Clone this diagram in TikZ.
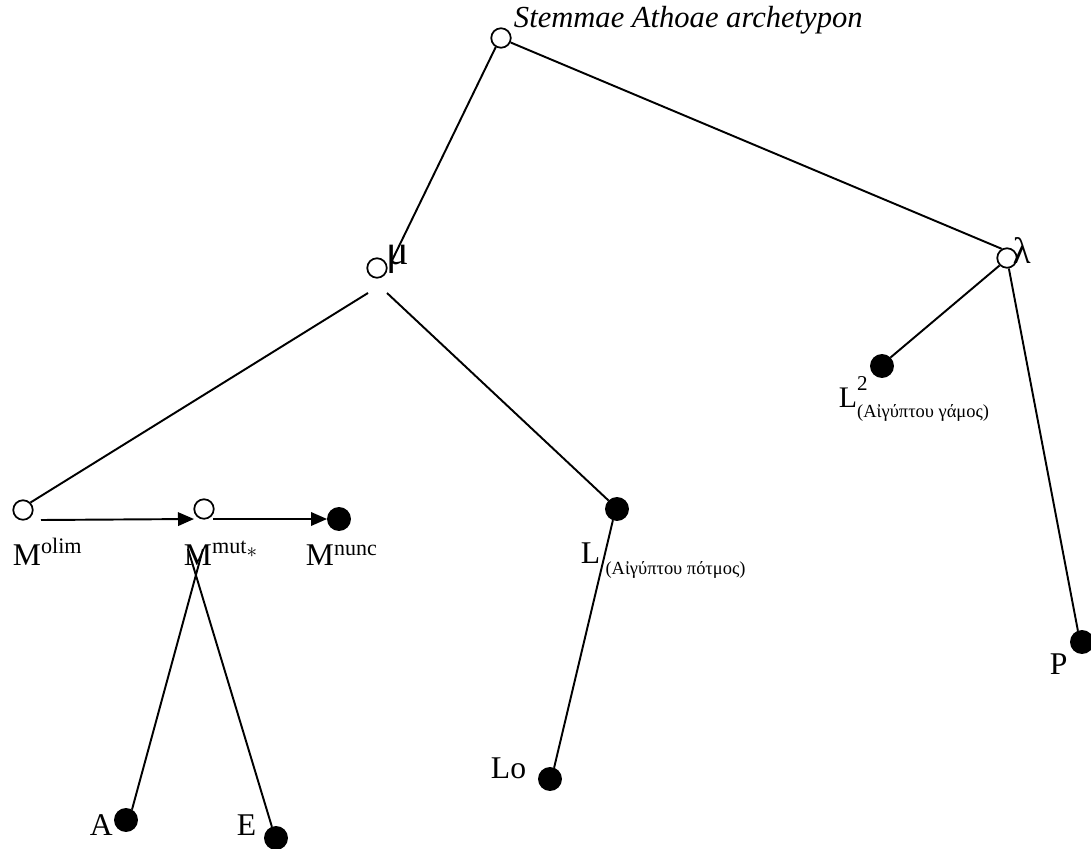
\documentclass[tikz,border=0pt]{standalone}
\usepackage{fontspec}
\setmainfont{Liberation Serif}
\usetikzlibrary{arrows.meta, positioning}

\begin{document}
\begin{tikzpicture}[x=0.02cm, y=-0.02cm, >={Triangle[length=0.32cm, width=0.27cm]}, line width=1.1pt]
    % Define styles for lost and extant manuscripts and their sigla
    \tikzstyle{lost} = [draw, fill=white, circle, minimum size=0.39cm, inner sep=0pt, line width=1pt]
    \tikzstyle{kept} = [draw, fill=black, circle, minimum size=0.44cm, inner sep=0pt]
    \tikzstyle{siglum} = [inner sep=0pt, anchor=base west, font=\fontsize{18}{21}\selectfont]
    \tikzstyle{edge} = [draw, line width=1.1pt]

    \useasboundingbox (0,0) rectangle (1091,848);

    % Nodes placement
    \node [lost] (archetypon) at (501,38) {};
    \node [lost] (mu) at (377,268) {};
    \node [lost] (lambda) at (1007,258) {};
    \node [kept] (Ltwo) at (882,366) {};
    \node [lost] (Molim) at (23,510) {};
    \node [lost] (Mmut) at (204,509) {};
    \node [kept] (Mnunc) at (339,519) {};
    \node [kept] (L) at (617,509) {};
    \node [kept] (P) at (1082,642) {};
    \node [kept] (Lo) at (550,779) {};
    \node [kept] (A) at (126,820) {};
    \node [kept] (E) at (276,838) {};

    % Sigla
    \node [siglum, font=\fontsize{17.4}{20}\selectfont] (archlabel) at (513,28) {\itshape Stemmae Athoae archetypon};
    \node [siglum, font=\fontsize{24}{26}\selectfont] (mulabel) at (386,264) {μ};
    \node [siglum, font=\fontsize{21}{24}\selectfont] (lambdalabel) at (1012,263) {λ};
    \node [siglum, font=\fontsize{17}{20}\selectfont] (Ltwolabel) at (838,407)
        {L\rlap{\raisebox{0.55em}{\fontsize{12}{13}\selectfont 2}}\raisebox{-0.35em}{\fontsize{10.5}{12}\selectfont(Αἰγύπτου γάμος)}};
    \node [siglum] (Molimlabel) at (12,565) {M\textsuperscript{olim}};
    \node [siglum] (Mmutlabel) at (183,565) {M\textsuperscript{mut\textsubscript{\large$\ast$}}};
    \node [siglum] (Mnunclabel) at (305,565) {M\raisebox{0.3em}{\fontsize{12.5}{14}\selectfont nunc}};
    \node [siglum] (Llabel) at (580,563) {L\,\raisebox{-0.35em}{\fontsize{10.5}{12}\selectfont(Αἰγύπτου πότμος)}};
    \node [siglum] (Plabel) at (1049,674) {P};
    \node [siglum] (Lolabel) at (490,778) {Lo};
    \node [siglum] (Alabel) at (89,835) {A};
    \node [siglum] (Elabel) at (236,835) {E};

    % Draw edges
    \draw[edge] (archetypon.240) -- ([xshift=0.15cm]mu.north east);
    \draw[edge] (archetypon.-25) -- (lambda.120);
    \draw[edge] ([shift={(-9,25)}]mu.center) -- (Molim.north east);
    \draw[edge] ([shift={(10,25)}]mu.center) -- (L.north west);
    \draw[edge] (lambda.south west) -- (Ltwo.north east);
    \draw[edge] (lambda.-80) -- (P.110);
    \draw[edge] (L.-110) -- (Lo.70);
    \draw[edge] ([shift={(-1,40)}]Mmut.center) -- (A.60);
    \draw[edge] ([shift={(-16,40)}]Mmut.center) -- (E.110);

    % Arrows of the changing state of M
    \draw[edge,->] ([shift={(18,10)}]Molim.center) -- ([shift={(-10,10)}]Mmut.center);
    \draw[edge,->] ([shift={(9,10)}]Mmut.center) -- (Mnunc.west);
\end{tikzpicture}
\end{document}
